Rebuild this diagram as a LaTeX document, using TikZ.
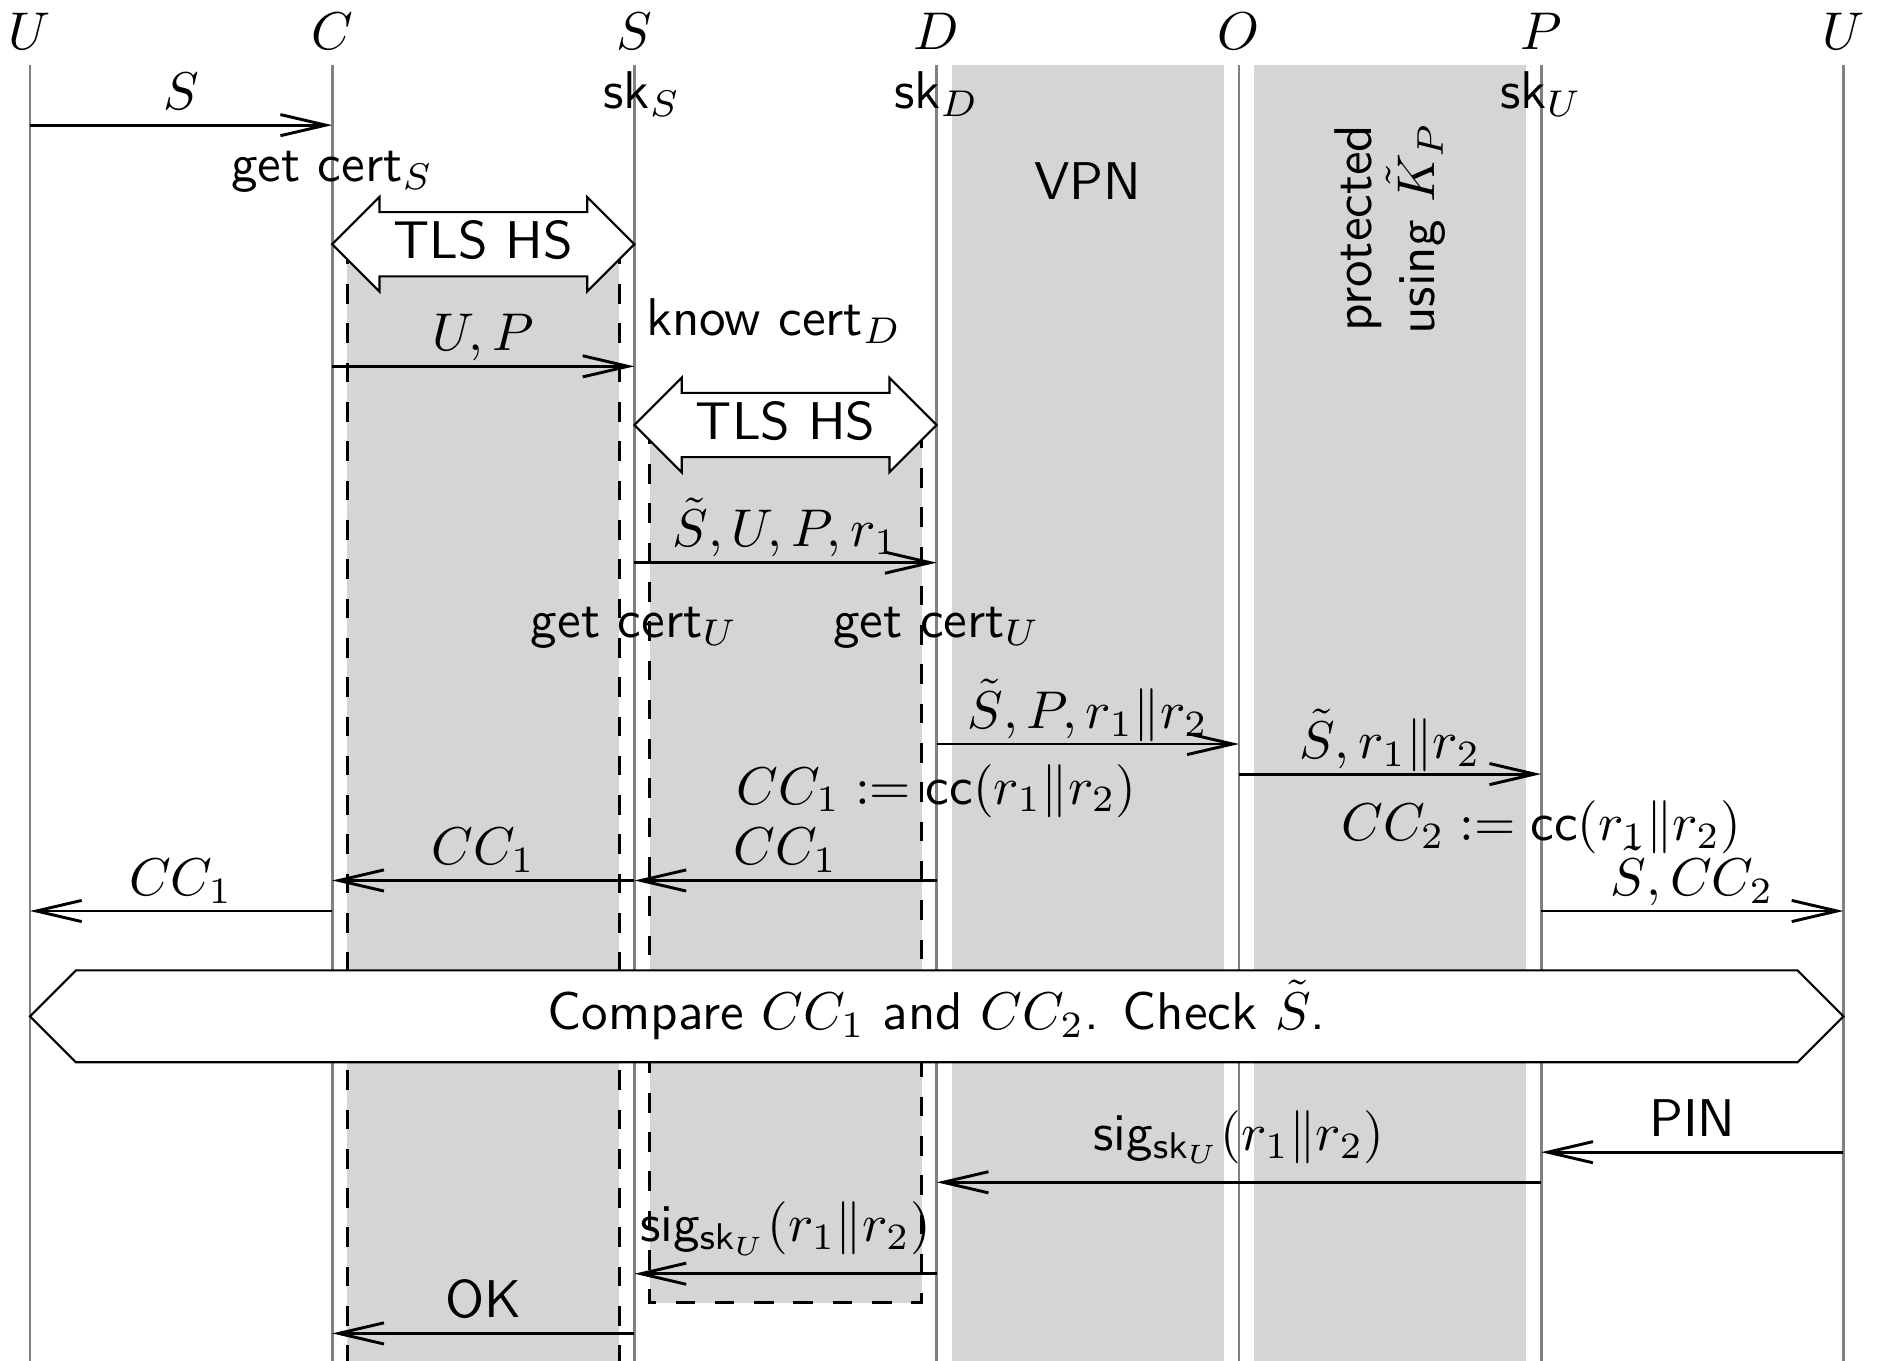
\documentclass[tikz,border=0pt]{standalone}
\usepackage{amsmath}
\usetikzlibrary{arrows.meta,shapes.arrows}
\definecolor{bandgray}{RGB}{213,213,213}
\tikzset{
  lifeline/.style={black!50, line width=0.5pt},
  msgarrow/.style={line width=0.55pt, -{Straight Barb[length=3mm,width=1.4mm]}},
  msglabel/.style={above, text depth=0pt, inner sep=2.7pt},
  tunnel/.style={dash pattern=on 3.7pt off 3.7pt, line width=0.5pt},
  handshake/.style={double arrow, draw, fill=white, minimum height=2cm,
    double arrow head extend=0.1cm, text height=6.9pt, text depth=1.6pt,
    inner ysep=1.6pt, inner xsep=0pt},
}

\begin{document}
\begin{tikzpicture}[font=\sffamily]
\useasboundingbox (-0.198,-9.005) rectangle (12.222,0);
% VPN and protected channel
\fill[bandgray] (6.1,-0.43) rectangle (7.9,-9.005);
\fill[bandgray] (8.1,-0.43) rectangle (9.9,-9.005);
% TLS tunnels
\fill[bandgray] (2.1,-1.62) rectangle (3.9,-9.005);
\fill[bandgray] (4.1,-2.81) rectangle (5.9,-8.62);
% parties and lifelines
\foreach \n/\x/\lab in {uL/0/U, C/2/C, S/4/S, D/6/D, O/8/O, P/10/P, uR/12/U} {
  \node[anchor=base] (\n) at (\x,-0.325) {$\lab$};
  \draw[lifeline] (\n |- 0,-0.43) -- (\n |- 0,-9.005);
}
\foreach \n/\dx/\lab in {S/0.05/S, D/0/D, P/0/U}
  \node[anchor=base, xshift=\dx cm] (sk\n) at (\n |- 0,-0.715) {sk$_\lab$};
\draw[tunnel] (2.1,-1.62) -- (2.1,-9.005) (3.9,-1.62) -- (3.9,-9.005);
\draw[tunnel] (4.1,-2.81) -- (4.1,-8.62) -- (5.9,-8.62) -- (5.9,-2.81);
% messages
\foreach \a/\b/\y/\lab in {uL/C/-0.828/{$S$}, C/S/-2.424/{$U,P$},
    S/D/-3.723/{$\tilde S,U,P,r_1$}, D/O/-4.923/{$\tilde S,P,r_1\|r_2$},
    O/P/-5.122/{$\tilde S,r_1\|r_2$}, D/S/-5.826/{$CC_1$}, S/C/-5.826/{$CC_1$},
    C/uL/-6.028/{$CC_1$}, P/uR/-6.028/{$\tilde S,CC_2$}, uR/P/-7.624/{PIN},
    S/C/-8.823/{OK}}
  \draw[msgarrow] (\a |- 0,\y) -- node[msglabel] {\lab} (\b |- 0,\y);
\foreach \a/\b/\y in {P/D/-7.823, D/S/-8.428}
  \draw[msgarrow] (\a |- 0,\y) -- node[msglabel, yshift=3pt] {sig$_{\mathsf{sk}_U}(r_1\|r_2)$} (\b |- 0,\y);
% handshakes
\node[handshake] (hs1) at (3,-1.616) {TLS HS};
\node[handshake] (hs2) at (5,-2.812) {TLS HS};
\node[double arrow, draw, fill=white, double arrow head extend=0pt,
  minimum height=12cm, text height=7.9pt, text depth=3pt, inner ysep=3pt]
  (cmp) at (6,-6.725) {Compare $CC_1$ and $CC_2$. Check $\tilde S$.};
% notes
\node[anchor=base] (getS) at (2,-1.204) {get cert$_S$};
\node[anchor=base west, inner sep=0pt] (knowD) at (4.07,-2.218) {know cert$_D$};
\node[anchor=base] (getUS) at (4,-4.22) {get cert$_U$};
\node[anchor=base] (getUD) at (6,-4.22) {get cert$_U$};
\node[anchor=base] (ccD) at (6,-5.32) {$CC_1 := \mathsf{cc}(r_1\|r_2)$};
\node[anchor=base] (ccP) at (10,-5.56) {$CC_2 := \mathsf{cc}(r_1\|r_2)$};
\node[anchor=base] (vpn) at (7,-1.323) {VPN};
\node[rotate=90, align=center] (prot) at (9.0,-1.51) {protected\\using $\tilde K_P$};
\end{tikzpicture}
\end{document}
